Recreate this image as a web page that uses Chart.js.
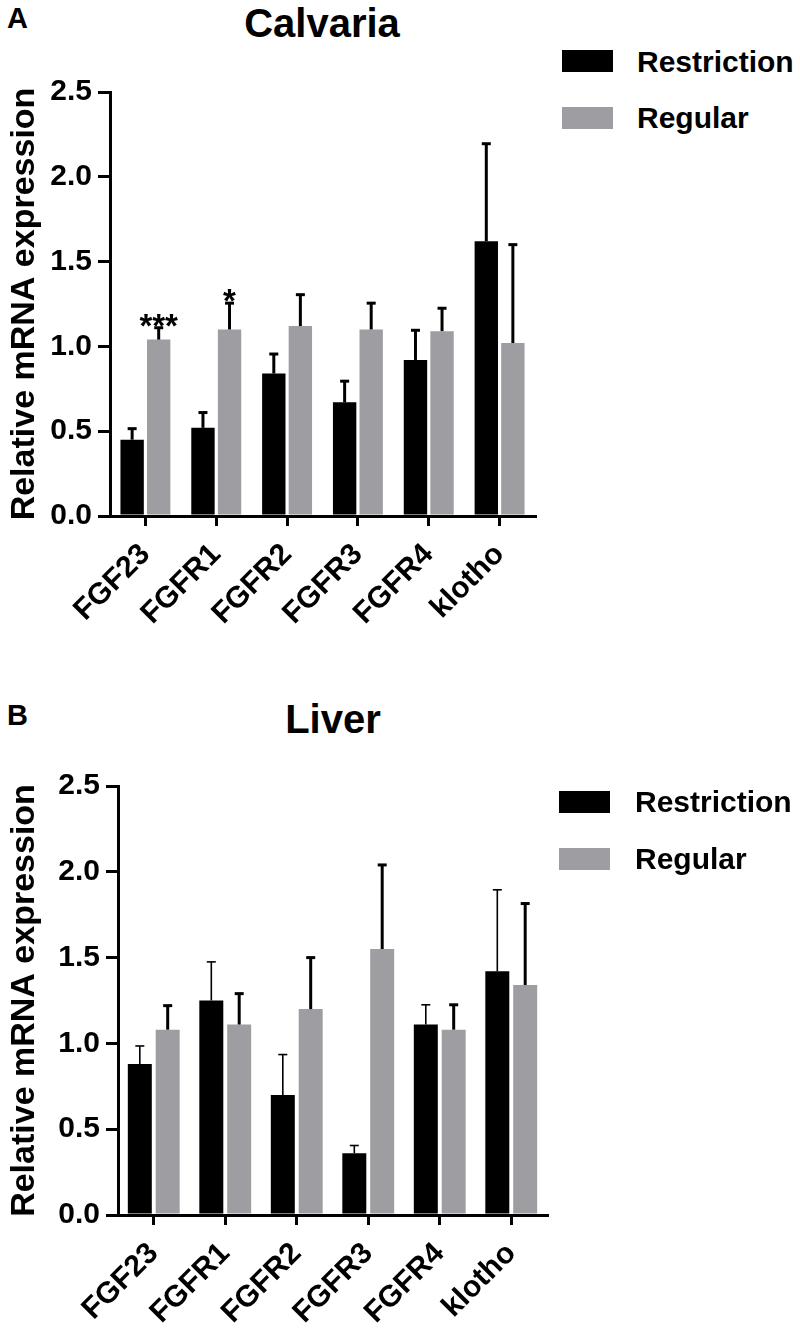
<!DOCTYPE html>
<html>
<head>
<meta charset="utf-8">
<script src="https://cdn.jsdelivr.net/npm/chart.js@4.4.1/dist/chart.umd.min.js"></script>
<style>
  body { margin: 0; background: #fff; font-family: "Liberation Sans", Arial, sans-serif; }
  #page { position: relative; width: 800px; height: 1329px; overflow: hidden; }
  .panel { position: absolute; }
  .txt { position: absolute; font-weight: bold; color: #000; white-space: nowrap; }
  .letter { font-size: 29px; line-height: 29px; }
  .title { font-size: 40px; line-height: 40px; width: 400px; text-align: center; }
  .legend-box { position: absolute; width: 51px; height: 22px; }
  .legend-label { font-size: 30px; line-height: 30px; }
</style>
</head>
<body>
<div id="page">
  <div class="txt letter" style="left:7px; top:4px;">A</div>
  <div class="txt title" style="left:122px; top:3px;">Calvaria</div>
  <div class="panel" style="left:0; top:0; width:560px; height:650px;">
    <canvas id="calvariaChart" width="560" height="650"></canvas>
  </div>
  <div class="legend-box" style="left:562px; top:50px; background:#000;"></div>
  <div class="txt legend-label" style="left:637px; top:47px;">Restriction</div>
  <div class="legend-box" style="left:562px; top:107px; background:#9e9ea2;"></div>
  <div class="txt legend-label" style="left:637px; top:103px;">Regular</div>

  <div class="txt letter" style="left:7px; top:701px;">B</div>
  <div class="txt title" style="left:133px; top:699px;">Liver</div>
  <div class="panel" style="left:0; top:680px; width:570px; height:649px;">
    <canvas id="liverChart" width="570" height="649"></canvas>
  </div>
  <div class="legend-box" style="left:559px; top:791px; background:#000;"></div>
  <div class="txt legend-label" style="left:635px; top:787px;">Restriction</div>
  <div class="legend-box" style="left:559px; top:848px; background:#9e9ea2;"></div>
  <div class="txt legend-label" style="left:635px; top:844px;">Regular</div>
</div>

<script>
// categories and tick labels
const genes = ["FGF23", "FGFR1", "FGFR2", "FGFR3", "FGFR4", "klotho"];
const yTicks = [0, 0.5, 1.0, 1.5, 2.0, 2.5];

// Calvaria (A)
const calvariaRestriction = [0.45, 0.52, 0.84, 0.67, 0.92, 1.62];
const calvariaRestrictionErr = [0.065, 0.09, 0.115, 0.125, 0.175, 0.575];
const calvariaRegular = [1.04, 1.10, 1.12, 1.10, 1.09, 1.02];
const calvariaRegularErr = [0.07, 0.155, 0.185, 0.155, 0.135, 0.58];
const calvariaMarks = ["***", "*", "", "", "", ""];

// Liver (B)
const liverRestriction = [0.88, 1.25, 0.70, 0.36, 1.11, 1.42];
const liverRestrictionErr = [0.105, 0.225, 0.235, 0.045, 0.115, 0.475];
const liverRegular = [1.08, 1.11, 1.20, 1.55, 1.08, 1.34];
const liverRegularErr = [0.14, 0.18, 0.30, 0.49, 0.145, 0.475];

const FONT = "'Liberation Sans', Arial, sans-serif";
Chart.defaults.font.family = FONT;
Chart.defaults.color = "#000";

// draws the upper error bars (and significance stars) on top of the bars
const errorBars = {
    id: "errorBars",
    afterDatasetsDraw(chart) {
        const ctx = chart.ctx;
        const y = chart.scales.y;
        chart.data.datasets.forEach((ds, i) => {
            const meta = chart.getDatasetMeta(i);
            meta.data.forEach((bar, j) => {
                const top = y.getPixelForValue(ds.data[j] + ds.errors[j]);
                ctx.save();
                ctx.strokeStyle = "#000";
                ctx.lineWidth = ds.errorWidth;
                ctx.beginPath();
                ctx.moveTo(bar.x, bar.y);
                ctx.lineTo(bar.x, top);
                ctx.stroke();
                ctx.lineWidth = ds.capWidth;
                ctx.beginPath();
                ctx.moveTo(bar.x - 4.5, top);
                ctx.lineTo(bar.x + 4.5, top);
                ctx.stroke();
                if (ds.marks && ds.marks[j]) {
                    ctx.fillStyle = "#000";
                    ctx.font = "bold 33px " + FONT;
                    ctx.textAlign = "center";
                    ctx.textBaseline = "alphabetic";
                    ctx.fillText(ds.marks[j], bar.x, top + 9);
                }
                ctx.restore();
            });
        });
    }
};

function makeChart(id, opts) {
    return new Chart(document.getElementById(id), {
        type: "bar",
        data: {
            labels: genes,
            datasets: [{
                label: "Restriction",
                data: opts.restriction,
                errors: opts.restrictionErr,
                errorWidth: opts.restrictionLine,
                capWidth: opts.restrictionLine,
                backgroundColor: "#000000",
                categoryPercentage: opts.catPct,
                barPercentage: opts.barPct
            }, {
                label: "Regular",
                data: opts.regular,
                errors: opts.regularErr,
                errorWidth: 3,
                capWidth: 3,
                marks: opts.marks,
                backgroundColor: "#9e9ea2",
                categoryPercentage: opts.catPct,
                barPercentage: opts.barPct
            }]
        },
        options: {
            responsive: false,
            animation: false,
            devicePixelRatio: 1,
            layout: { padding: { top: opts.padTop, right: opts.padRight, left: 0, bottom: 0 } },
            plugins: {
                legend: { display: false },
                tooltip: { enabled: false }
            },
            scales: {
                x: {
                    border: { color: "#000", width: 3 },
                    grid: { offset: false, drawOnChartArea: false, drawTicks: true, tickLength: 10, color: "#000", lineWidth: 3 },
                    ticks: { font: { size: 30, weight: "bold" }, color: "#000", maxRotation: 45, minRotation: 45, padding: 11 },
                    afterFit(scale) { scale.height = opts.xHeight; }
                },
                y: {
                    min: 0,
                    max: 2.5,
                    afterBuildTicks(scale) { scale.ticks = yTicks.map(v => ({ value: v })); },
                    border: { color: "#000", width: 3 },
                    grid: { drawOnChartArea: false, drawTicks: true, tickLength: 12, color: "#000", lineWidth: 3 },
                    ticks: {
                        font: { size: 30, weight: "bold" },
                        color: "#000",
                        padding: 6,
                        callback: v => v.toFixed(1)
                    },
                    title: {
                        display: true,
                        text: "Relative mRNA expression",
                        font: { size: 34, weight: "bold" },
                        color: "#000",
                        padding: { top: 4, bottom: 0 }
                    },
                    afterFit(scale) { scale.width = opts.yWidth; }
                }
            }
        },
        plugins: [errorBars]
    });
}

makeChart("calvariaChart", {
    restriction: calvariaRestriction,
    restrictionErr: calvariaRestrictionErr,
    restrictionLine: 3,
    regular: calvariaRegular,
    regularErr: calvariaRegularErr,
    marks: calvariaMarks,
    catPct: 0.75,
    barPct: 0.88,
    padTop: 92,
    padRight: 25,
    xHeight: 134,
    yWidth: 110
});

makeChart("liverChart", {
    restriction: liverRestriction,
    restrictionErr: liverRestrictionErr,
    restrictionLine: 1.6,
    regular: liverRegular,
    regularErr: liverRegularErr,
    marks: null,
    catPct: 0.78,
    barPct: 0.86,
    padTop: 106,
    padRight: 23,
    xHeight: 114,
    yWidth: 118
});
</script>
</body>
</html>
